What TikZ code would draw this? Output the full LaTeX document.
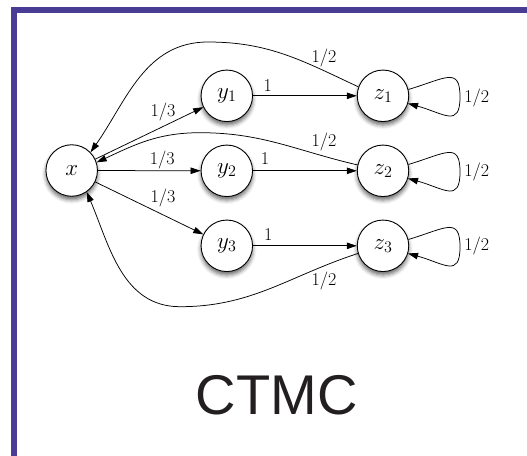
\RequirePackage{fix-cm}
\documentclass[tikz,border=0pt]{standalone}
\usepackage{fontspec}
\newfontfamily\ctmcfont{Liberation Sans}
\usetikzlibrary{arrows.meta,shadows.blur}
\definecolor{framecol}{RGB}{72,60,148}
\definecolor{titlecol}{RGB}{35,31,32}
\tikzset{
  state/.style={circle, draw, line width=0.9pt, fill=white, minimum size=51.5pt,
    inner sep=0pt, font=\fontsize{23}{27}\selectfont,
    blur shadow={shadow xshift=0pt, shadow yshift=-3.5pt, shadow blur radius=4pt, shadow opacity=60}},
  lbl/.style={font=\fontsize{18}{22}\selectfont, inner sep=0pt},
  edge/.style={-{Triangle[length=10pt,width=6.5pt]}, line width=0.75pt},
}
\begin{document}
\begin{tikzpicture}[x=1pt,y=1pt]
\useasboundingbox (0,0) rectangle (527,-455);
\draw[framecol, line width=6pt, line join=miter] (14,-460) -- (14,-9.7) -- (532,-9.7);

\node[state] (x)  at (71.7,-170.5) {$x$};
\node[state] (y1) at (226.8,-95.8)  {$y_1$};
\node[state] (y2) at (226.8,-170.8) {$y_2$};
\node[state] (y3) at (226.8,-245.8) {$y_3$};
\node[state] (z1) at (383,-95.8)  {$z_1$};
\node[state] (z2) at (383,-170.8) {$z_2$};
\node[state] (z3) at (383,-245.8) {$z_3$};

% x -> y
\draw[edge] (x) -- (y1);
\draw[edge] (x) -- (y2);
\draw[edge] (x) -- (y3);
\node[lbl] (lxy1) at (163,-111.7) {$1/3$};
\node[lbl] (lxy2) at (162.2,-160) {$1/3$};
\node[lbl] (lxy3) at (163,-198.3) {$1/3$};

% y -> z
\draw[edge] (y1) -- (z1);
\draw[edge] (y2) -- (z2);
\draw[edge] (y3) -- (z3);
\node[lbl] (lyz1) at (267.7,-85.3) {$1$};
\node[lbl] (lyz2) at (265,-158.3) {$1$};
\node[lbl] (lyz3) at (268.3,-234.7) {$1$};

% z -> x
\coordinate (p1) at (208,-42);
\coordinate (p2) at (200,-132.7);
\coordinate (p3) at (180,-306.7);
\draw[edge] (z1.160) to[out=155,in=0] (p1) to[out=180,in=55] (x.44);
\draw[edge] (z2.167) to[out=167,in=0] (p2) to[out=180,in=25] (x.18);
\draw[edge] (z3.197) to[out=198,in=0] (p3) to[out=180,in=-67] (x.-55);
\node[lbl] (lzx1) at (324,-58.3) {$1/2$};
\node[lbl] (lzx2) at (324,-141.7) {$1/2$};
\node[lbl] (lzx3) at (324,-281.2) {$1/2$};

% self loops
\coordinate (m1) at (460,-97);
\coordinate (m2) at (460,-172);
\coordinate (m3) at (460,-247);
\draw[edge] (z1.14) .. controls +(37,11) and +(0,31) .. (m1) .. controls +(0,-31) and +(36,-10) .. (z1.-17);
\draw[edge] (z2.14) .. controls +(37,11) and +(0,31) .. (m2) .. controls +(0,-31) and +(36,-10) .. (z2.-17);
\draw[edge] (z3.14) .. controls +(37,11) and +(0,31) .. (m3) .. controls +(0,-31) and +(36,-10) .. (z3.-17);
\node[lbl] (lzz1) at (476.7,-97.8) {$1/2$};
\node[lbl] (lzz2) at (476.7,-171.7) {$1/2$};
\node[lbl] (lzz3) at (476.7,-246.3) {$1/2$};

\node[font=\ctmcfont\fontsize{56}{60}\selectfont, text=titlecol, anchor=base, inner sep=0pt] (title) at (276.7,-414.3) {CTMC};
\end{tikzpicture}
\end{document}
